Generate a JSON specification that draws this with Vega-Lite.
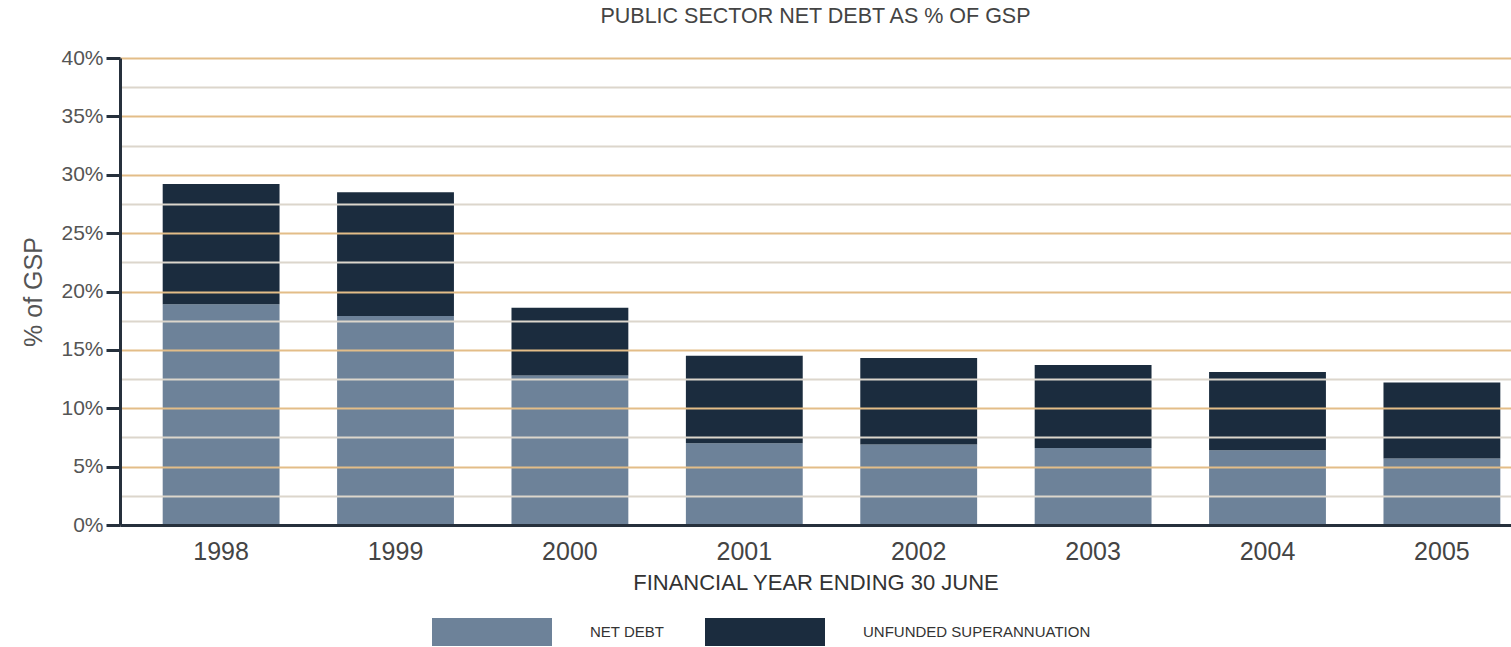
{
  "$schema": "https://vega.github.io/schema/vega-lite/v6.json",
  "width": 1391,
  "height": 467,
  "autosize": "none",
  "padding": {"left": 120, "top": 58, "right": 0, "bottom": 122},
  "background": "#ffffff",
  "config": {"font": "Liberation Sans", "view": {"stroke": null}},
  "title": {"text": "PUBLIC SECTOR NET DEBT AS % OF GSP", "fontSize": 21.5, "fontWeight": "normal", "color": "#444444", "anchor": "middle", "offset": 20},
  "data": {"values": [
    {"year": "1998", "type": "NET DEBT", "value": 18.9, "ord": 1},
    {"year": "1998", "type": "UNFUNDED SUPERANNUATION", "value": 10.3, "ord": 2},
    {"year": "1999", "type": "NET DEBT", "value": 17.9, "ord": 1},
    {"year": "1999", "type": "UNFUNDED SUPERANNUATION", "value": 10.6, "ord": 2},
    {"year": "2000", "type": "NET DEBT", "value": 12.8, "ord": 1},
    {"year": "2000", "type": "UNFUNDED SUPERANNUATION", "value": 5.8, "ord": 2},
    {"year": "2001", "type": "NET DEBT", "value": 7.0, "ord": 1},
    {"year": "2001", "type": "UNFUNDED SUPERANNUATION", "value": 7.5, "ord": 2},
    {"year": "2002", "type": "NET DEBT", "value": 6.9, "ord": 1},
    {"year": "2002", "type": "UNFUNDED SUPERANNUATION", "value": 7.4, "ord": 2},
    {"year": "2003", "type": "NET DEBT", "value": 6.6, "ord": 1},
    {"year": "2003", "type": "UNFUNDED SUPERANNUATION", "value": 7.1, "ord": 2},
    {"year": "2004", "type": "NET DEBT", "value": 6.4, "ord": 1},
    {"year": "2004", "type": "UNFUNDED SUPERANNUATION", "value": 6.7, "ord": 2},
    {"year": "2005", "type": "NET DEBT", "value": 5.7, "ord": 1},
    {"year": "2005", "type": "UNFUNDED SUPERANNUATION", "value": 6.5, "ord": 2}
  ]},
  "mark": {"type": "bar"},
  "encoding": {
    "x": {
      "field": "year", "type": "ordinal",
      "scale": {"paddingInner": 0.33, "paddingOuter": 0.153, "align": 0.8},
      "axis": {
        "title": "FINANCIAL YEAR ENDING 30 JUNE", "titleFontSize": 22, "titleFontWeight": "normal", "titleColor": "#333333", "titlePadding": 8,
        "labelAngle": 0, "labelFontSize": 25, "labelColor": "#444444", "labelPadding": 14,
        "ticks": false, "domainColor": "#26303c", "domainWidth": 3, "zindex": 1
      }
    },
    "y": {
      "field": "value", "type": "quantitative", "stack": "zero",
      "scale": {"domain": [0, 40], "nice": false},
      "axis": {
        "title": "% of GSP", "titleFontSize": 25, "titleFontWeight": "normal", "titleColor": "#555555", "titlePadding": 14,
        "values": [0, 2.5, 5, 7.5, 10, 12.5, 15, 17.5, 20, 22.5, 25, 27.5, 30, 32.5, 35, 37.5, 40],
        "labelExpr": "datum.value % 5 === 0 ? datum.value + '%' : ''",
        "labelFontSize": 21, "labelColor": "#555555", "labelPadding": 3,
        "tickSize": 14, "tickWidth": 3,
        "tickColor": {"condition": {"test": "datum.value % 5 === 0", "value": "#26303c"}, "value": "transparent"},
        "gridColor": {"condition": {"test": "datum.value % 5 === 0", "value": "#e3bd88"}, "value": "#dcd6cc"},
        "gridWidth": 2, "domainColor": "#26303c", "domainWidth": 3, "zindex": 1
      }
    },
    "color": {
      "field": "type", "type": "nominal",
      "scale": {"domain": ["NET DEBT", "UNFUNDED SUPERANNUATION"], "range": ["#6d8299", "#1b2c3e"]},
      "legend": {
        "title": null, "orient": "none", "direction": "horizontal", "legendX": 312, "legendY": 514,
        "symbolType": "M-1,-0.233H1V0.233H-1Z", "symbolSize": 14400, "symbolStrokeWidth": 0,
        "labelFontSize": 15, "labelColor": "#333333", "labelOffset": 38, "labelLimit": 400, "columnPadding": 40
      }
    },
    "order": {"field": "ord", "type": "quantitative"}
  }
}
